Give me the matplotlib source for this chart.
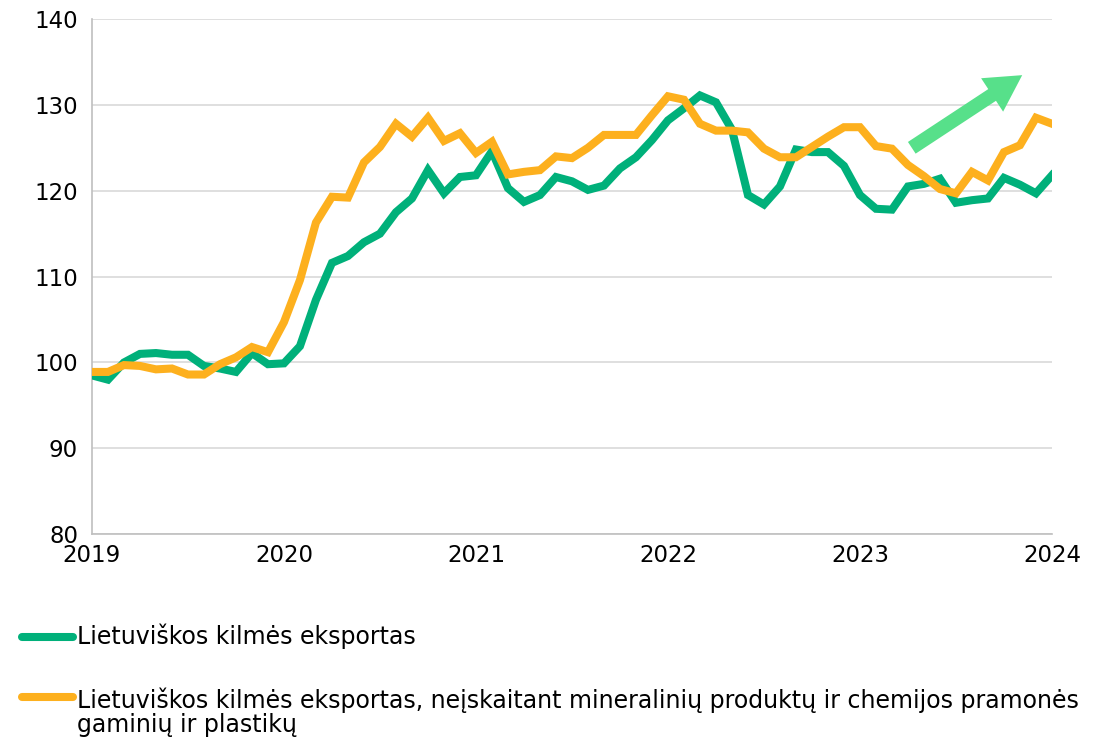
import matplotlib.pyplot as plt
import matplotlib.patches as mpatches
from matplotlib.lines import Line2D
from matplotlib.transforms import IdentityTransform

plt.rcParams['font.family'] = ['DejaVu Sans']

# Monthly index values, Jan 2019 - Jan 2024
export_total = [
    98.5, 98.0, 100.0, 101.0, 101.1, 100.9, 100.9, 99.6, 99.3, 98.9, 101.1, 99.8,
    99.9, 101.9, 107.3, 111.6, 112.4, 114.0, 115.0, 117.5, 119.1, 122.4, 119.7, 121.6,
    121.8, 124.6, 120.3, 118.7, 119.5, 121.6, 121.1, 120.1, 120.6, 122.6, 123.9, 125.9,
    128.2, 129.6, 131.1, 130.3, 127.1, 119.5, 118.4, 120.5, 124.8, 124.5, 124.5, 122.9,
    119.5, 117.9, 117.8, 120.5, 120.8, 121.4, 118.6, 118.9, 119.1, 121.5, 120.7, 119.7,
    121.8,
]
export_excl = [
    98.9, 98.9, 99.7, 99.6, 99.2, 99.3, 98.6, 98.6, 99.8, 100.6, 101.8, 101.2,
    104.7, 109.6, 116.3, 119.3, 119.2, 123.3, 125.1, 127.8, 126.3, 128.5, 125.8, 126.7,
    124.4, 125.7, 121.9, 122.2, 122.4, 124.0, 123.8, 125.0, 126.5, 126.5, 126.5, 128.8,
    131.0, 130.6, 127.8, 127.0, 127.0, 126.8, 124.9, 123.9, 123.9, 125.1, 126.3, 127.4,
    127.4, 125.2, 124.9, 123.0, 121.7, 120.2, 119.7, 122.2, 121.2, 124.5, 125.3, 128.5,
    127.8,
]
years = ['2019', '2020', '2021', '2022', '2023', '2024']
labels = [
    'Lietuviškos kilmės eksportas',
    'Lietuviškos kilmės eksportas, neįskaitant mineralinių produktų ir chemijos pramonės\ngaminių ir plastikų',
]

green = '#00B07A'
orange = '#FDB01E'

fig = plt.figure(figsize=(11.12, 7.42), dpi=100)
ax = fig.add_axes([0.0827, 0.280, 0.8633, 0.6944])

months = range(len(export_total))
ax.plot(months, export_total, color=green, lw=5.8, solid_joinstyle='miter', zorder=3)
ax.plot(months, export_excl, color=orange, lw=5.8, solid_joinstyle='miter', zorder=3)

ax.set_xlim(0, 60)
ax.set_ylim(80, 140)
ax.set_xticks(range(0, 61, 12))
ax.set_xticklabels(years)
ax.set_yticks(range(80, 141, 10))
ax.tick_params(length=0, labelsize=16.5, colors='#000000')
ax.tick_params(axis='x', pad=7)
ax.tick_params(axis='y', pad=10)
ax.grid(axis='y', color='#d9d9d9', lw=1.2)
ax.set_axisbelow(True)
for s in ['top', 'right']:
    ax.spines[s].set_visible(False)
for s in ['left', 'bottom']:
    ax.spines[s].set_color('#bfbfbf')
    ax.spines[s].set_linewidth(1.2)

# trend arrow, drawn in pixels so its shape is not stretched
(x0, y0), (x1, y1) = ax.transAxes.transform([(0.854, 0.750), (0.969, 0.891)])
arrow = mpatches.FancyArrow(x0, y0, x1 - x0, y1 - y0, width=14, head_width=40,
                            head_length=36, length_includes_head=True,
                            color='#57E08A', lw=0, transform=IdentityTransform())
fig.add_artist(arrow)

# legend drawn manually
for y, col, lab in [(0.142, green, labels[0]), (0.060, orange, labels[1])]:
    fig.add_artist(Line2D([0.02, 0.066], [y, y], color=col, lw=5.8, solid_capstyle='round'))
    fig.text(0.069, y + (0.013 if '\n' in lab else 0), lab, fontsize=17,
             va='top' if '\n' in lab else 'center', linespacing=1.0,
             transform=fig.transFigure)

fig.savefig('out.png', dpi=100)
